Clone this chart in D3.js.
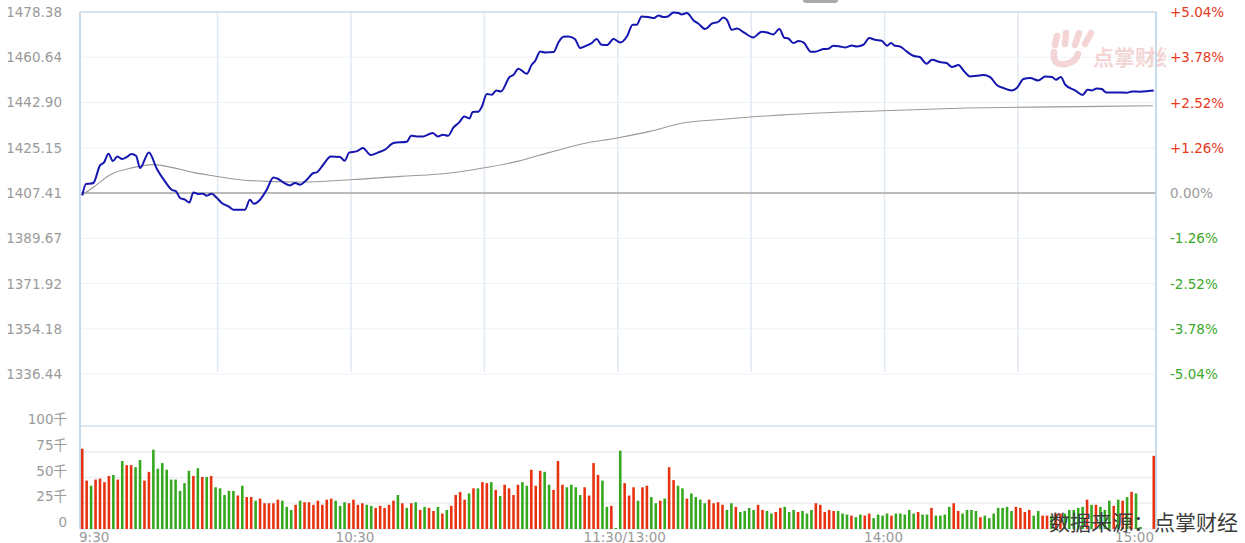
<!DOCTYPE html>
<html>
<head>
<meta charset="utf-8">
<script src="https://cdn.jsdelivr.net/npm/d3@7/dist/d3.min.js"></script>
<style>
  html, body { margin: 0; padding: 0; background: #fff; }
  svg { display: block; }
  text { font-family: "DejaVu Sans", "Noto Sans CJK SC", sans-serif; }
</style>
</head>
<body>
<svg id="chart" width="1245" height="543"></svg>
<script>
// ---------------- DATA ----------------
const priceTicks = [1478.38, 1460.64, 1442.90, 1425.15, 1407.41, 1389.67, 1371.92, 1354.18, 1336.44];
const pctTicks = [5.04, 3.78, 2.52, 1.26, 0, -1.26, -2.52, -3.78, -5.04];
const preClose = 1407.41;
const volTicks = [0, 25, 50, 75, 100];
const timeLabels = ["9:30", "10:30", "11:30/13:00", "14:00", "15:00"];
const timeLabelIdx = [0, 60, 120, 180, 241];
const gridIdx = [30, 60, 90, 120, 150, 180, 210];
const slotCount = 242;

// price line readings: [minute slot, price]
const pricePoints = [
  [0,1406.40],[0.85,1410.94],[1.75,1411.06],[2.5,1411.33],[4.0,1418.23],[4.9,1419.41],[5.9,1422.82],
  [6.9,1419.95],[7.9,1421.76],[9.0,1420.74],[10.0,1421.52],[11.1,1422.70],[12.1,1422.03],[13.0,1417.21],
  [15.0,1423.33],[16.8,1416.82],[18.6,1411.96],[20.1,1408.70],[21.1,1408.04],[22.0,1405.45],[23.1,1404.78],
  [24.1,1403.73],[25.0,1407.65],[26.1,1407.02],[27.2,1407.14],[28.0,1406.35],[29.1,1407.14],[30.3,1405.45],
  [31.4,1403.49],[32.9,1402.16],[34.0,1400.86],[35.5,1400.86],[36.6,1400.86],[37.7,1404.78],[38.6,1403.22],
  [40.0,1404.78],[41.5,1408.70],[43.0,1413.53],[44.1,1412.90],[45.2,1411.57],[46.7,1410.39],[47.9,1411.33],
  [49.0,1410.66],[50.5,1412.62],[52.0,1415.25],[52.7,1415.49],[54.2,1418.50],[55.9,1421.76],[58.0,1421.52],
  [59.0,1420.07],[60.1,1423.33],[61.7,1423.72],[63.1,1425.05],[64.9,1422.31],[66.6,1423.33],[68.1,1424.38],
  [70.0,1427.01],[73.0,1427.52],[74.0,1429.87],[75.2,1429.60],[76.7,1429.60],[78.8,1430.93],[80.0,1429.60],
  [81.1,1430.26],[82.3,1429.87],[83.5,1433.13],[84.8,1435.09],[85.9,1437.44],[87.1,1436.65],[87.8,1439.16],
  [89.1,1439.28],[89.9,1441.36],[91.0,1446.22],[92.1,1445.94],[93.1,1447.63],[94.2,1447.24],[96.1,1452.88],
  [97.0,1453.78],[98.1,1456.14],[100.0,1454.18],[101.1,1457.70],[101.8,1459.00],[103.0,1462.92],[104.1,1462.53],
  [106.0,1462.68],[107.1,1466.45],[108.2,1468.68],[109.3,1468.80],[110.8,1467.78],[112.0,1464.25],[113.5,1465.27],
  [114.4,1465.94],[115.7,1467.78],[116.8,1465.54],[118.0,1465.43],[119.5,1467.78],[121.0,1466.45],[122.5,1468.80],
  [123.8,1473.38],[124.7,1473.38],[125.8,1476.64],[127.3,1476.40],[128.6,1476.01],[129.6,1477.03],[130.7,1476.40],
  [131.7,1476.64],[133.0,1478.21],[134.1,1477.97],[134.8,1477.42],[136.0,1477.97],[137.5,1475.07],[138.6,1473.78],
  [140.1,1471.70],[141.6,1473.78],[143.1,1474.56],[144.2,1476.25],[145.0,1475.30],[146.1,1471.42],[147.3,1471.93],
  [148.9,1470.25],[150.9,1468.41],[152.8,1470.64],[154.0,1470.37],[155.4,1469.58],[156.8,1471.70],[157.9,1468.29],
  [158.8,1468.01],[159.9,1466.21],[161.1,1466.99],[162.2,1466.45],[163.9,1462.80],[164.8,1462.80],[166.7,1463.86],
  [167.8,1463.98],[168.9,1465.15],[170.4,1464.88],[171.7,1464.49],[173.1,1465.27],[174.2,1464.88],[175.7,1465.54],
  [177.0,1468.17],[178.3,1467.50],[179.8,1467.11],[181.0,1465.15],[181.9,1466.21],[182.8,1465.15],[183.9,1464.88],
  [185.4,1462.92],[186.9,1461.23],[188.4,1460.72],[189.9,1458.10],[191.1,1459.66],[192.9,1458.76],[194.4,1458.37],
  [195.6,1456.80],[197.1,1457.59],[198.2,1455.47],[199.7,1453.12],[201.2,1453.39],[202.7,1453.67],[204.2,1452.88],
  [205.7,1449.75],[207.2,1448.57],[209.1,1447.63],[210.2,1448.57],[211.7,1452.10],[213.2,1452.49],[215.0,1451.55],
  [216.6,1453.12],[218.1,1452.88],[219.0,1451.82],[220.1,1452.88],[221.1,1449.86],[223.3,1447.63],[225.0,1445.83],
  [226.1,1447.90],[227.1,1447.63],[228.2,1448.41],[229.3,1448.18],[230.3,1446.85],[232.7,1446.85],[234.9,1446.73],
  [236.1,1447.24],[237.9,1447.12],[239.8,1447.39],[241.0,1447.63]
];

// average price line readings: [minute slot, price]
const avgPoints = [
  [0,1406.74],[2.4,1409.49],[6.3,1414.60],[11.4,1417.35],[15.9,1418.52],[20.4,1417.35],[24.9,1415.49],
  [29.4,1414.19],[35.5,1412.62],[41.6,1411.96],[49.0,1411.72],[60.2,1412.62],[71.5,1413.92],[82.7,1415.25],
  [90.1,1417.21],[97.8,1419.80],[105.2,1423.33],[112.6,1426.74],[120.3,1428.97],[127.7,1431.56],[135.1,1434.85],
  [142.8,1436.14],[150.2,1437.20],[161.4,1438.38],[180.1,1439.67],[199.0,1440.73],[228.9,1441.36],[240.8,1441.63]
];

// volume per minute slot (千 lots)
const volumes = [
  78,47,42,48,49,45.5,51.5,52.5,48,66,62,62,60,67,47,55.5,77,58.5,64,57.5,
  48,48,37,44.5,56.5,51.5,59,50.5,50.5,51.5,40.5,39.5,33,37,37,32.5,42,31,31,27.5,
  29.5,25,25,25,28.5,27.5,21.5,18.5,23.5,27.5,26,26,23.5,27.5,23.5,28.5,29.5,27.5,22.5,26,
  25,28.5,23.5,25,23.5,22.5,20.5,22.5,20.5,23.5,27.5,33,25,20.5,25,26,18.5,21.5,20.5,17.5,
  21.5,15,18.5,22.5,33,36,28.5,34.5,39.5,39.5,45.5,44.5,45.5,38,32,43,39.5,33,43,45.5,
  42,57.5,42,56.5,55.5,43,38,66,43,40.5,43,40.5,33,40.5,32.5,64,52.5,47,21.5,22.5,
  1,76,44.5,32.5,40.5,27.5,40.5,42,31,25,27.5,29.5,60,47.5,42,39.5,29.5,34.5,31,28.5,
  25,28.5,25,26,23.5,18.5,25,21.5,16.5,17.5,20.5,18.5,23.5,18.5,17.5,15,16.5,20.5,21.5,16.5,
  18.5,16.5,17.5,15,18.5,25,23.5,16.5,18.5,17.5,17.5,15,14,13,11.5,14,13,15,10.5,14,
  13,15,13,15,15,14,18.5,15,16.5,14,14,20.5,13,13,14,21.5,25,17.5,15,18.5,
  18.5,17.5,11.5,13,10.5,15,20.5,20.5,21.5,17.5,21.5,20.5,16.5,18.5,13,17.5,13,13,13,15,
  15,15,18.5,18.5,20.5,21.5,28.5,23.5,23.5,21.5,18.5,27.5,22.5,28.5,27.5,31,36,34.5,2,0,
  0,71
];
// 1 = price up in that minute (red), 0 = down (green)
const volUp = [
  1,1,0,1,1,1,1,0,1,0,1,1,0,0,1,1,0,0,0,0,
  0,0,0,0,0,1,0,1,0,1,0,0,0,0,0,1,0,1,1,0,
  1,1,1,1,1,0,0,0,1,0,1,1,1,1,1,1,1,0,0,0,
  1,1,1,1,0,0,1,1,1,1,1,0,1,0,1,0,1,0,1,1,
  0,1,0,1,1,1,1,0,1,0,1,1,0,1,0,1,1,1,1,0,
  0,1,1,1,0,0,1,1,1,0,0,0,0,1,1,1,1,0,0,1,
  0,0,1,1,1,0,1,1,0,0,1,0,1,1,0,0,1,0,0,0,
  0,1,1,1,1,0,0,1,0,0,0,0,1,1,0,0,1,1,0,0,
  0,1,0,0,0,1,1,1,1,1,0,0,0,1,0,0,1,1,0,0,
  0,0,1,0,0,0,0,0,1,0,0,1,0,0,0,0,1,1,0,0,
  0,0,1,0,0,0,0,0,0,0,1,1,1,1,0,0,1,1,0,1,
  1,0,0,0,0,0,1,0,1,0,0,0,1,0,1,0,1,0,0,0,
  0,1
];

// ---------------- LAYOUT ----------------
const L = 80, R = 1156, PT = 12, PB = 374, VT = 426, VB = 529;
const svg = d3.select("#chart");

const xBand = d3.scaleBand().domain(d3.range(slotCount)).range([L, R]).paddingInner(0.42).paddingOuter(0.21);
const xs = d3.scaleLinear().domain([-0.5, slotCount - 0.5]).range([L, R]);
const yP = d3.scaleLinear().domain([priceTicks[priceTicks.length - 1], priceTicks[0]]).range([PB, PT]);
const yPct = d3.scaleLinear().domain([-5.04, 5.04]).range([PB, PT]);
const yV = d3.scaleLinear().domain([0, 100]).range([VB, VT]);

const RED = "#e8320f", GREEN = "#35a81e", GRID = "#edf2f7", VGRID = "#e2eaf2", BORDER = "#c6dbeb";

// horizontal price grid
svg.append("g").selectAll("line").data(priceTicks.slice(1)).join("line")
  .attr("x1", L).attr("x2", R).attr("y1", d => yP(d)).attr("y2", d => yP(d))
  .attr("stroke", GRID).attr("stroke-width", 1);

// vertical grid (price panel)
svg.append("g").selectAll("line").data(gridIdx).join("line")
  .attr("x1", d => xs(d) + 2).attr("x2", d => xs(d) + 2).attr("y1", PT).attr("y2", PB - 2)
  .attr("stroke", VGRID).attr("stroke-width", 1.6);

// volume grid
svg.append("g").selectAll("line").data(volTicks).join("line")
  .attr("x1", L).attr("x2", R).attr("y1", d => yV(d)).attr("y2", d => yV(d))
  .attr("stroke", d => d === 100 ? "#dfe8f1" : "#e9eff5").attr("stroke-width", d => d === 100 ? 2 : 1.3);

// zero line
svg.append("line").attr("x1", L).attr("x2", R).attr("y1", yP(preClose)).attr("y2", yP(preClose))
  .attr("stroke", "#a6a6a6").attr("stroke-width", 1.7);

// borders
svg.append("line").attr("x1", L).attr("x2", R).attr("y1", PT).attr("y2", PT).attr("stroke", BORDER).attr("stroke-width", 1.5);
svg.append("line").attr("x1", L).attr("x2", L).attr("y1", PT).attr("y2", VB).attr("stroke", BORDER).attr("stroke-width", 2);
svg.append("line").attr("x1", R).attr("x2", R).attr("y1", PT).attr("y2", VB).attr("stroke", BORDER).attr("stroke-width", 2);

// top tab
svg.append("rect").attr("x", 803).attr("y", -4).attr("width", 35).attr("height", 7).attr("rx", 3).attr("fill", "#a9a9a9");

// watermark logo + text (top right)
const wm = svg.append("g").attr("opacity", 0.55);
const wmColor = "#eab4b4";
wm.append("defs").append("clipPath").attr("id", "wmclip").append("rect").attr("x", 1000).attr("y", 0).attr("width", 166).attr("height", 100);
const wmg = wm.append("g").attr("clip-path", "url(#wmclip)");
[[1055, 45, 1057, 36], [1065, 44, 1066, 33], [1075, 45, 1079, 33], [1085, 44, 1091, 33]].forEach(s => {
  wmg.append("line").attr("x1", s[0]).attr("y1", s[1]).attr("x2", s[2]).attr("y2", s[3])
    .attr("stroke", wmColor).attr("stroke-width", 6.5).attr("stroke-linecap", "round");
});
wmg.append("path").attr("d", "M1054,52 Q1052,66 1066,64 Q1076,62 1078,54")
  .attr("fill", "none").attr("stroke", wmColor).attr("stroke-width", 6.5).attr("stroke-linecap", "round");
wmg.append("text").attr("x", 1093).attr("y", 58).attr("dominant-baseline", "central")
  .attr("font-family", "Noto Sans CJK SC").attr("font-weight", "bold").attr("font-size", 21)
  .attr("fill", wmColor).text("点掌财经");

// average line
svg.append("path").datum(avgPoints)
  .attr("d", d3.line().x(d => xs(d[0])).y(d => yP(d[1])).curve(d3.curveMonotoneX))
  .attr("fill", "none").attr("stroke", "#999").attr("stroke-width", 1.1);

// price line
svg.append("path").datum(pricePoints)
  .attr("d", d3.line().x(d => xs(d[0])).y(d => yP(d[1])).curve(d3.curveMonotoneX))
  .attr("fill", "none").attr("stroke", "#1515b0").attr("stroke-width", 2).attr("stroke-linejoin", "round");

// volume bars
svg.append("g").selectAll("rect").data(volumes).join("rect")
  .attr("x", (d, i) => xBand(i)).attr("width", xBand.bandwidth())
  .attr("y", d => yV(d)).attr("height", d => yV(0) - yV(d))
  .attr("fill", (d, i) => volUp[i] ? RED : GREEN);

// left price labels
svg.append("g").selectAll("text").data(priceTicks).join("text")
  .attr("x", 62).attr("y", d => yP(d)).attr("text-anchor", "end").attr("dominant-baseline", "central")
  .attr("font-size", 13.5).attr("fill", "#9a9a9a").text(d => d.toFixed(2));

// right pct labels
svg.append("g").selectAll("text").data(pctTicks).join("text")
  .attr("x", 1170).attr("y", d => yPct(d)).attr("dominant-baseline", "central")
  .attr("font-size", 13.5).attr("fill", d => d > 0 ? "#e8381c" : d < 0 ? "#3aa82a" : "#9a9a9a")
  .text(d => (d > 0 ? "+" : "") + d.toFixed(2) + "%");

// volume labels
svg.append("g").selectAll("text").data(volTicks).join("text")
  .attr("x", 67).attr("y", d => yV(d) - 2).attr("text-anchor", "end")
  .attr("font-size", 13.5).attr("fill", "#9a9a9a")
  .text(d => d === 0 ? "0" : d + "千");

// time labels
svg.append("g").selectAll("text").data(timeLabels).join("text")
  .attr("x", (d, i) => i === 0 ? L - 1 : i === timeLabels.length - 1 ? R - 2 : xs(timeLabelIdx[i]) + [0, 6, 9, 1][i])
  .attr("y", 536.5).attr("dominant-baseline", "central")
  .attr("text-anchor", (d, i) => i === 0 ? "start" : i === timeLabels.length - 1 ? "end" : "middle")
  .attr("font-size", 13.5).attr("fill", "#9a9a9a").text(d => d);

// source watermark
svg.append("text").attr("x", 1049).attr("y", 523).attr("dominant-baseline", "central")
  .attr("font-family", "Noto Sans CJK SC").attr("font-size", 21).attr("fill", "#3c3c3c")
  .text("数据来源：点掌财经");
</script>
</body>
</html>
